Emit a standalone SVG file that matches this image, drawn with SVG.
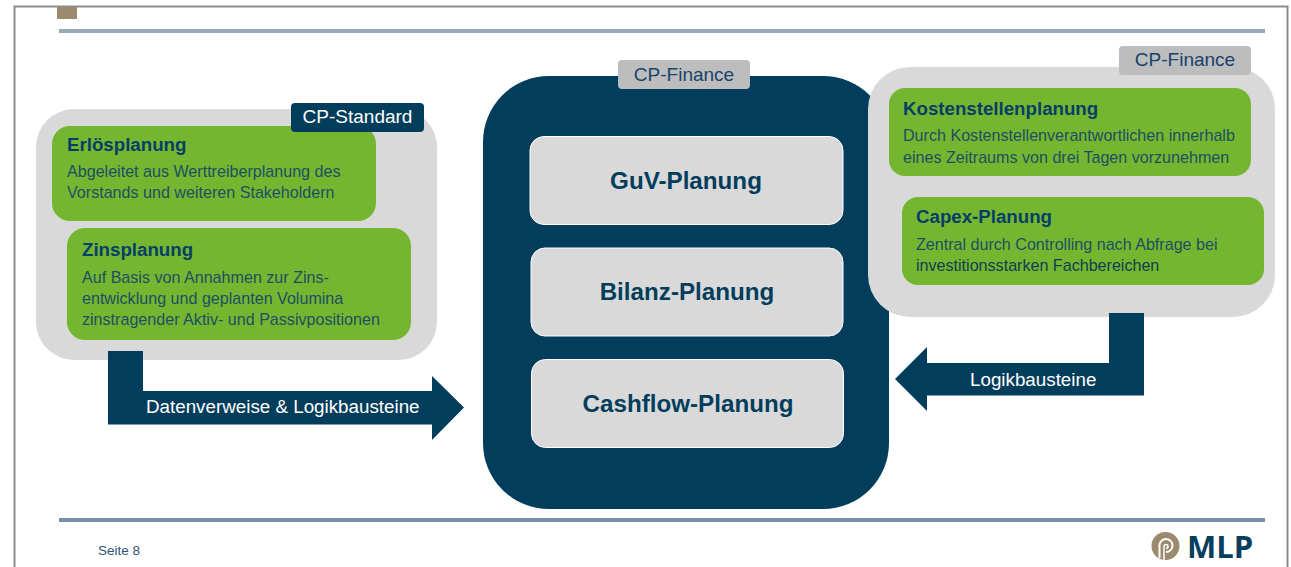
<svg xmlns="http://www.w3.org/2000/svg" width="1291" height="567" viewBox="0 0 1291 567">
<style>
text{font-family:"Liberation Sans",Arial,sans-serif}
.grey{fill:#d9d9d9}
.green{fill:#75b631}
.navy{fill:#023d5c}
.tagg{fill:#bdbdbd}
.h{font-size:18.700px;font-weight:bold;fill:#063e66}
.b{font-size:16.100px;fill:#1c5060}
.tag{font-size:19px;fill:#17436b}
.tagw{font-size:19px;fill:#fff}
.box{fill:#d9d9d9;stroke:#fff;stroke-width:1}
.big{font-size:24.200px;font-weight:bold;fill:#023d5c;text-anchor:middle}
.lbl{font-size:18.800px;fill:#fff}
</style>
<g id="frame">
<path d="M14.500 567V6.500H1287.500V567" fill="none" stroke="#8c8c8c" stroke-width="2"/>
<rect x="57" y="7" width="20" height="12" fill="#9b8a6e"/>
<rect x="59" y="29" width="1206" height="4" fill="#9aa8b6"/>
<rect x="59" y="518" width="1206" height="4" fill="#7590a6"/>
<text x="98" y="555" font-size="13.500" fill="#2f5478">Seite 8</text>
</g>
<g id="logo">
<circle cx="1165.500" cy="546" r="14" fill="#9b8a6e"/>
<path d="M1159.500 558V545.500A6.500 6.500 0 1 1 1166 552" fill="none" stroke="#fff" stroke-width="2"/>
<path d="M1164 561V546.500A2 2 0 1 1 1166 548.500" fill="none" stroke="#fff" stroke-width="1.500"/>
<text x="1187" y="558" font-size="31" font-weight="bold" fill="#063e5e" style="font-family:'Open Sans','Liberation Sans',sans-serif">MLP</text>
</g>
<g id="cp-finance-center">
<rect x="483" y="76" width="406" height="433" rx="66" class="navy"/>
<rect x="618" y="60" width="132" height="29" rx="4" class="tagg"/>
<text class="tag" x="684" y="81" text-anchor="middle">CP-Finance</text>
</g>
<g id="guv"><rect x="530" y="136.500" width="313" height="88" rx="14" class="box"/><text class="big" x="686" y="189">GuV-Planung</text></g>
<g id="bilanz"><rect x="531" y="248" width="312" height="88" rx="14" class="box"/><text class="big" x="687" y="300">Bilanz-Planung</text></g>
<g id="cashflow"><rect x="531.500" y="359.500" width="312" height="88" rx="14" class="box"/><text class="big" x="688" y="412">Cashflow-Planung</text></g>
<g id="cp-standard">
<rect x="36" y="109" width="401" height="251" rx="38" class="grey"/>
<g id="erloes">
<rect x="52" y="126" width="324" height="95" rx="18" class="green"/>
<text class="h" x="67" y="151">Erlösplanung</text>
<text class="b" x="67" y="177">Abgeleitet aus Werttreiberplanung des</text>
<text class="b" x="67" y="198">Vorstands und weiteren Stakeholdern</text>
</g>
<g id="zins">
<rect x="67" y="228" width="344" height="112" rx="18" class="green"/>
<text class="h" x="82" y="256">Zinsplanung</text>
<text class="b" x="82" y="283">Auf Basis von Annahmen zur Zins-</text>
<text class="b" x="82" y="304">entwicklung und geplanten Volumina</text>
<text class="b" x="82" y="325">zinstragender Aktiv- und Passivpositionen</text>
</g>
<rect x="291" y="103" width="133" height="29" rx="4" class="navy"/>
<text class="tagw" x="357.500" y="123" text-anchor="middle">CP-Standard</text>
</g>
<g id="cp-finance-right">
<rect x="868" y="67" width="407" height="250" rx="42" class="grey"/>
<rect x="1119" y="46" width="132" height="29" rx="4" class="tagg"/>
<text class="tag" x="1185" y="66" text-anchor="middle">CP-Finance</text>
<g id="kosten">
<rect x="889" y="88" width="362" height="88" rx="16" class="green"/>
<text class="h" x="903" y="115">Kostenstellenplanung</text>
<text class="b" x="903" y="141">Durch Kostenstellenverantwortlichen innerhalb</text>
<text class="b" x="903" y="163">eines Zeitraums von drei Tagen vorzunehmen</text>
</g>
<g id="capex">
<rect x="902" y="197" width="362" height="88" rx="16" class="green"/>
<text class="h" x="916" y="223">Capex-Planung</text>
<text class="b" x="916" y="250">Zentral durch Controlling nach Abfrage bei</text>
<text class="b" x="916" y="271" style="fill:#0e3f4e">investitionsstarken Fachbereichen</text>
</g>
</g>
<g id="connectors">
<path id="arrow-left" class="navy" d="M108 351H143V391H432V376L464 407.500L432 440V424.500H108Z"/>
<path id="arrow-right" class="navy" d="M1109 313H1144V395.500H927V411L895 379L927 347V363H1109Z"/>
<text class="lbl" x="146" y="413">Datenverweise &amp; Logikbausteine</text>
<text class="lbl" x="970" y="386">Logikbausteine</text>
</g>
</svg>
